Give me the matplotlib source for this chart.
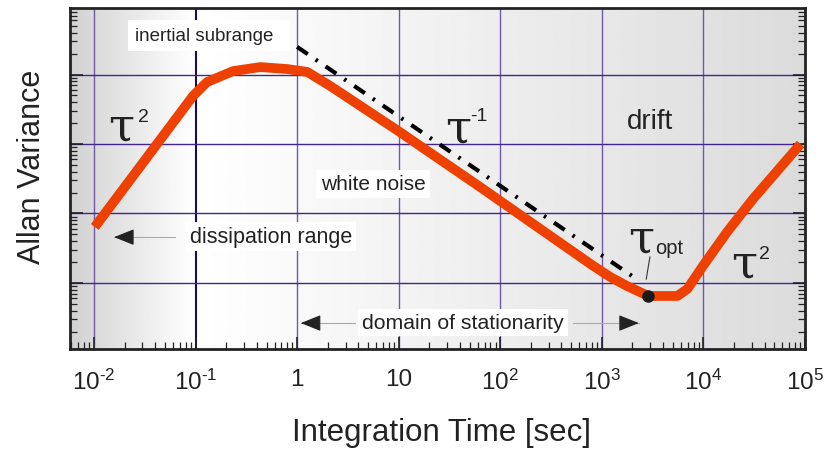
import matplotlib
matplotlib.use("Agg")
import matplotlib.pyplot as plt
import numpy as np
from matplotlib.ticker import LogLocator, FixedLocator, FixedFormatter, NullFormatter

plt.rcParams['font.family'] = ['Liberation Sans', 'DejaVu Sans']
plt.rcParams['mathtext.fontset'] = 'custom'
plt.rcParams['mathtext.rm'] = 'Liberation Sans'
plt.rcParams['mathtext.it'] = 'Liberation Sans'

# Allan variance curve
tau = [0.0102, 0.0944, 0.130, 0.234, 0.433, 0.798, 1.26,
       2.12, 9.66, 63.5, 824, 1210, 1780, 2870, 5550, 6950, 9890, 17100,
       30800, 90400]
allan = [64.0, 4910, 7800, 11200, 12800, 12000, 10900,
         6840, 1580, 240, 17.6, 12.2, 9.0, 6.5, 6.5, 8.2, 17.6, 54.2,
         162, 1000]

# tau^-1 reference slope
ref_tau = [1.0, 2000]
ref_val = [25000, 12.5]

# optimum averaging time
tau_opt = [2870]
allan_opt = [6.5]

tick_pos = [1e-2, 1e-1, 1, 10, 1e2, 1e3, 1e4, 1e5]
tick_labels = [r'$10^{\text{-}2}$', r'$10^{\text{-}1}$', '1', '10',
               '$10^{2}$', '$10^{3}$', '$10^{4}$', '$10^{5}$']
hgrid = [10, 100, 1000, 10000]

fig = plt.figure(figsize=(8.27, 4.52), dpi=100)
ax = fig.add_axes([0.0846, 0.2257, 0.8888, 0.7543])
ax.set_xscale('log')
ax.set_yscale('log')
ax.set_xlim(10 ** -2.236, 1e5)
ax.set_ylim(10 ** 0.05, 10 ** 4.957)

# grey gradient background
xs = np.linspace(0, 1, 600)
split = 0.17
shade = np.where(xs < split,
                 np.interp(xs, [0, split], [0.82, 1.0]),
                 np.interp(xs, [split, 1], [1.0, 0.86]))
ax.imshow(shade[np.newaxis, :], cmap='gray', vmin=0, vmax=1, aspect='auto',
          extent=(0, 1, 0, 1), transform=ax.transAxes, zorder=0)

# grid
for t in tick_pos[:-1]:
    if t == 0.1:
        ax.axvline(t, color='#1c0c4c', lw=1.5, zorder=1)
    else:
        ax.axvline(t, color='#6f5aa8', lw=1.0, zorder=1)
for h in hgrid:
    ax.axhline(h, color='#43268c', lw=1.0, zorder=1)

# curves
ax.plot(ref_tau, ref_val, color='black', lw=3,
        ls=(0, (3.1, 2.3, 0.6, 2.3)), zorder=3)
ax.plot(tau, allan, color='#ee4000', lw=7, solid_joinstyle='round',
        solid_capstyle='butt', zorder=4)
ax.plot(tau_opt, allan_opt, 'o', color='#1a1a1a', ms=8, zorder=5)

# ticks
ax.xaxis.set_major_locator(FixedLocator(tick_pos))
ax.xaxis.set_major_formatter(FixedFormatter(tick_labels))
ax.xaxis.set_minor_locator(LogLocator(base=10, subs=np.arange(2, 10), numticks=20))
ax.xaxis.set_minor_formatter(NullFormatter())
ax.yaxis.set_major_locator(FixedLocator(hgrid))
ax.yaxis.set_minor_locator(LogLocator(base=10, subs=np.arange(2, 10), numticks=20))
ax.yaxis.set_major_formatter(NullFormatter())
ax.yaxis.set_minor_formatter(NullFormatter())
ax.tick_params(which='both', direction='in', right=True, top=False, color='#222222')
ax.tick_params(which='major', length=9, width=1.2)
ax.tick_params(which='minor', length=5, width=0.9)
ax.tick_params(axis='x', which='major', labelsize=17.5, pad=14, labelcolor='#222222')
for s in ax.spines.values():
    s.set_linewidth(2)
    s.set_color('#222222')

tc = '#222222'
box = dict(facecolor='white', edgecolor='none', pad=3)
T = ax.transAxes

ax.text(0.088, 0.919, 'inertial subrange  ', transform=T, fontsize=13.5, color=tc,
        va='center', ha='left', zorder=6,
        bbox=dict(facecolor='white', edgecolor='none', pad=5))
ax.text(0.341, 0.484, 'white noise', transform=T, fontsize=15, color=tc,
        va='center', ha='left', zorder=6, bbox=box)
ax.text(0.163, 0.331, 'dissipation range', transform=T, fontsize=15.5, color=tc,
        va='center', ha='left', zorder=6, bbox=box)
ax.text(0.397, 0.078, 'domain of stationarity', transform=T, fontsize=15.3, color=tc,
        va='center', ha='left', zorder=6, bbox=box)
ax.text(0.758, 0.647, 'drift', transform=T, fontsize=20, color=tc,
        va='baseline', ha='left', zorder=6)

# tau labels
taufont = dict(family=['DejaVu Serif'], fontsize=34, color=tc,
               va='baseline', ha='left', zorder=6, transform=T)
supfont = dict(fontsize=14, color=tc, va='baseline', ha='left', zorder=6, transform=T)
ax.text(0.052, 0.616, '\u03c4', **taufont)
ax.text(0.093, 0.668, '2', **supfont)
ax.text(0.511, 0.610, '\u03c4', **taufont)
ax.text(0.545, 0.672, '-1', **supfont)
ax.text(0.759, 0.287, '\u03c4', **taufont)
ax.text(0.796, 0.281, 'opt', fontsize=14.5, color=tc, va='baseline', ha='left',
        zorder=6, transform=T)
ax.text(0.899, 0.214, '\u03c4', **taufont)
ax.text(0.937, 0.266, '2', **supfont)
ax.plot([0.789, 0.784], [0.270, 0.205], transform=T, color='#333333', lw=0.8, zorder=6)

# arrows
def arrow(x_tail, x_tip, y):
    ax.plot([x_tail, x_tip], [y, y], transform=T, color='#aaaaaa', lw=0.8, zorder=6)
    d = 0.025 if x_tip > x_tail else -0.025
    ax.annotate('', xy=(x_tip, y), xytext=(x_tip - d, y), xycoords='axes fraction',
                arrowprops=dict(arrowstyle='-|>,head_length=0.7,head_width=0.28',
                                color='#222222', lw=0.8, shrinkA=0, shrinkB=0,
                                mutation_scale=18), zorder=7)

arrow(0.143, 0.060, 0.328)
arrow(0.388, 0.314, 0.076)
arrow(0.684, 0.774, 0.076)

fig.text(441 / 827, 1 - 433 / 452, 'Integration Time [sec]', fontsize=22.5,
         color=tc, ha='center', va='center')
fig.text(32 / 827, 1 - 167 / 452, 'Allan Variance', fontsize=22, color=tc,
         ha='center', va='center', rotation=90)

fig.savefig('out.png', dpi=100)
